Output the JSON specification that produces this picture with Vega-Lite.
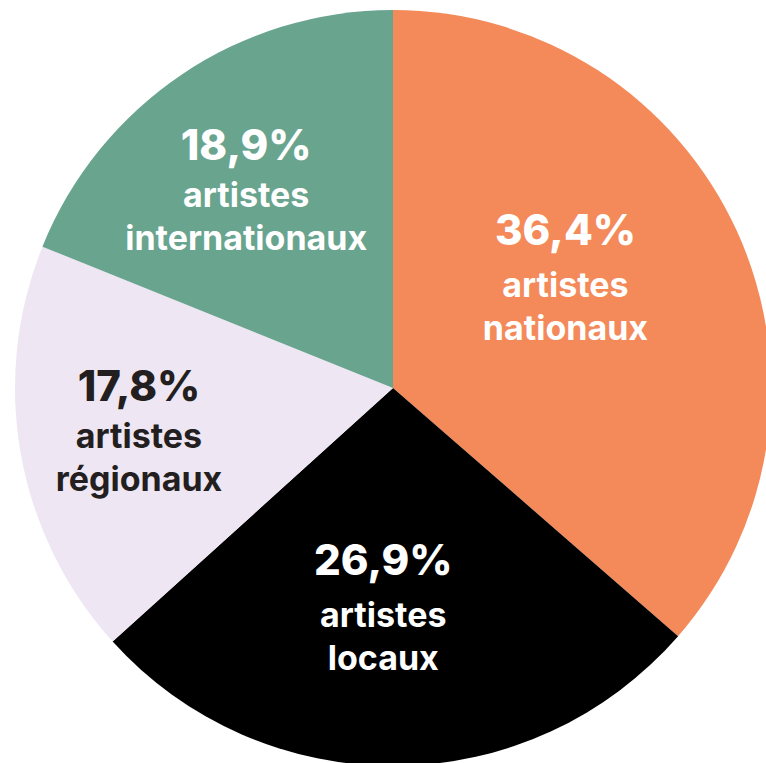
{
  "$schema": "https://vega.github.io/schema/vega-lite/v6.json",
  "width": 786,
  "height": 776,
  "padding": 0,
  "autosize": {"type": "none"},
  "background": "white",
  "config": {"view": {"stroke": null}},
  "data": {
    "values": [
      {"cat": "artistes nationaux", "pct": "36,4%", "value": 36.4, "order": 1},
      {"cat": "artistes locaux", "pct": "26,9%", "value": 26.9, "order": 2},
      {"cat": "artistes régionaux", "pct": "17,8%", "value": 17.8, "order": 3},
      {"cat": "artistes internationaux", "pct": "18,9%", "value": 18.9, "order": 4}
    ]
  },
  "encoding": {
    "theta": {"field": "value", "type": "quantitative", "stack": true},
    "order": {"field": "order", "type": "quantitative"}
  },
  "layer": [
    {
      "mark": {"type": "arc", "radius": 378},
      "encoding": {
        "color": {
          "field": "cat",
          "type": "nominal",
          "scale": {
            "domain": ["artistes nationaux", "artistes locaux", "artistes régionaux", "artistes internationaux"],
            "range": ["#F4895A", "#000000", "#EFE6F3", "#69A48F"]
          },
          "legend": null
        }
      }
    },
    {
      "mark": {
        "type": "text",
        "radius": {"expr": "datum.order == 1 ? 195 : datum.order == 2 ? 242 : datum.order == 3 ? 258 : 232"},
        "dx": {"expr": "datum.order == 1 ? -5 : datum.order == 2 ? -12 : datum.order == 3 ? 0 : -17"},
        "dy": {"expr": "datum.order == 1 ? -62 : datum.order == 2 ? -55 : datum.order == 3 ? -32 : -36"},
        "font": "Inter",
        "fontWeight": 800,
        "fontSize": 42,
        "baseline": "alphabetic",
        "align": "center"
      },
      "encoding": {
        "text": {"field": "pct", "type": "nominal"},
        "color": {"condition": {"test": "datum.order == 3", "value": "#231F20"}, "value": "#FFFFFF"}
      }
    },
    {
      "mark": {
        "type": "text",
        "radius": {"expr": "datum.order == 1 ? 195 : datum.order == 2 ? 242 : datum.order == 3 ? 258 : 232"},
        "dx": {"expr": "datum.order == 1 ? -5 : datum.order == 2 ? -12 : datum.order == 3 ? 0 : -17"},
        "dy": {"expr": "datum.order == 1 ? -10 : datum.order == 2 ? -3 : datum.order == 3 ? 15 : 11"},
        "font": "Inter",
        "fontWeight": 700,
        "fontSize": 34,
        "lineBreak": " ",
        "lineHeight": 43,
        "baseline": "alphabetic",
        "align": "center"
      },
      "encoding": {
        "text": {"field": "cat", "type": "nominal"},
        "color": {"condition": {"test": "datum.order == 3", "value": "#231F20"}, "value": "#FFFFFF"}
      }
    }
  ]
}
